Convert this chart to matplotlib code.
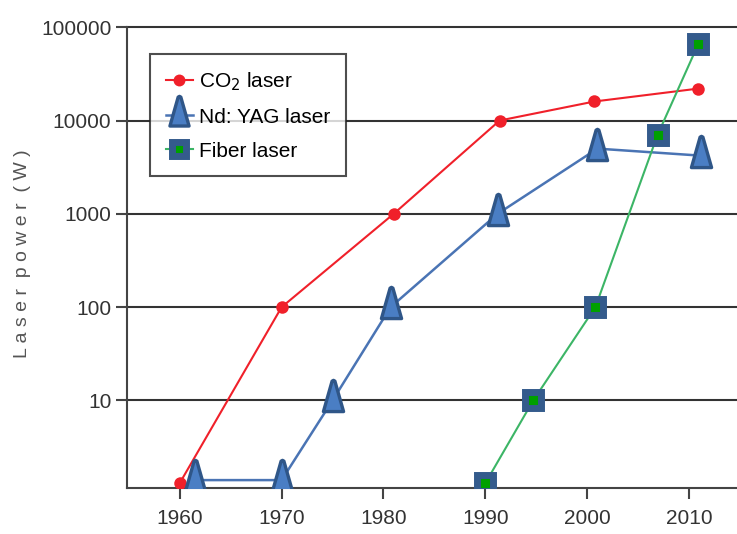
import numpy as np
import matplotlib
matplotlib.use('Agg')
import matplotlib.pyplot as plt
from matplotlib.path import Path

# ---------- Dados ----------
co2_years = [1960, 1970, 1981, 1991.4, 2000.7, 2010.9]
co2_power = [1.3, 100, 1000, 10000, 16000, 22000]

yag_years = [1961.5, 1970, 1975, 1980.7, 1991.2, 2001, 2011.2]
yag_power = [1.4, 1.4, 10, 100, 1000, 5000, 4200]

fiber_years = [1990, 1994.7, 2000.8, 2006.9, 2010.9]
fiber_power = [1.3, 10, 100, 7000, 66000]

x_ticks = [1960, 1970, 1980, 1990, 2000, 2010]
y_ticks = [10, 100, 1000, 10000, 100000]
y_tick_labels = ['10', '100', '1000', '10000', '100000']

# ---------- Estilo ----------
plt.rcParams['font.family'] = ['Liberation Sans', 'DejaVu Sans']

fig = plt.figure(figsize=(7.37, 5.34), dpi=100)
ax = fig.add_axes([0.172, 0.086, 0.828, 0.863])

# marcador de cone (triângulo alto, ponto perto da base)
cone = Path([(-0.5, -0.55), (0.5, -0.55), (0.07, 0.96), (0.0, 1.0),
             (-0.07, 0.96), (-0.5, -0.55)],
            [Path.MOVETO, Path.LINETO, Path.LINETO, Path.LINETO,
             Path.LINETO, Path.CLOSEPOLY])

ax.plot(co2_years, co2_power, '-o', color='#f0202a', lw=1.5,
        markersize=9, markeredgewidth=0, label='CO$_2$ laser', zorder=3)
ax.plot(yag_years, yag_power, '-', color='#4a74b4', lw=1.8,
        marker=cone, markersize=29, markerfacecolor='#4a7ec4',
        markeredgecolor='#2f5688', markeredgewidth=2.4,
        label='Nd: YAG laser', zorder=4)
ax.plot(fiber_years, fiber_power, '-s', color='#3cb566', lw=1.5,
        markersize=11, markerfacecolor='#00a000',
        markeredgecolor='#345b8c', markeredgewidth=5,
        label='Fiber laser', zorder=5)

ax.set_yscale('log')
ax.set_ylim(1.15, 100000)
ax.set_xlim(1954.8, 2014.7)

ax.set_yticks(y_ticks)
ax.set_yticklabels(y_tick_labels)
ax.yaxis.set_minor_locator(matplotlib.ticker.NullLocator())
ax.set_xticks(x_ticks)

for yv in y_ticks:
    ax.axhline(yv, color='#333333', lw=1.5, zorder=1, clip_on=False)

ax.tick_params(axis='both', direction='out', length=8, width=1.5,
               color='#444444', labelsize=15, labelcolor='#333333')
ax.tick_params(axis='x', pad=7)
ax.tick_params(axis='y', pad=3)

for s in ['top', 'right']:
    ax.spines[s].set_visible(False)
for s in ['left', 'bottom']:
    ax.spines[s].set_color('#444444')
    ax.spines[s].set_linewidth(1.5)

fig.text(0.03, 0.525, 'L a s e r  p o w e r  ( W )', rotation=90,
         ha='center', va='center', fontsize=14, color='#555555')

leg = ax.legend(loc='upper left', bbox_to_anchor=(0.038, 0.941),
                borderaxespad=0, fontsize=15, frameon=True, fancybox=False,
                edgecolor='#222222', handlelength=1.3, handletextpad=0.3,
                labelspacing=0.72, borderpad=0.75, markerscale=0.95)
leg.get_frame().set_linewidth(1.5)
leg.set_zorder(6)

plt.savefig('out.png', dpi=100)
